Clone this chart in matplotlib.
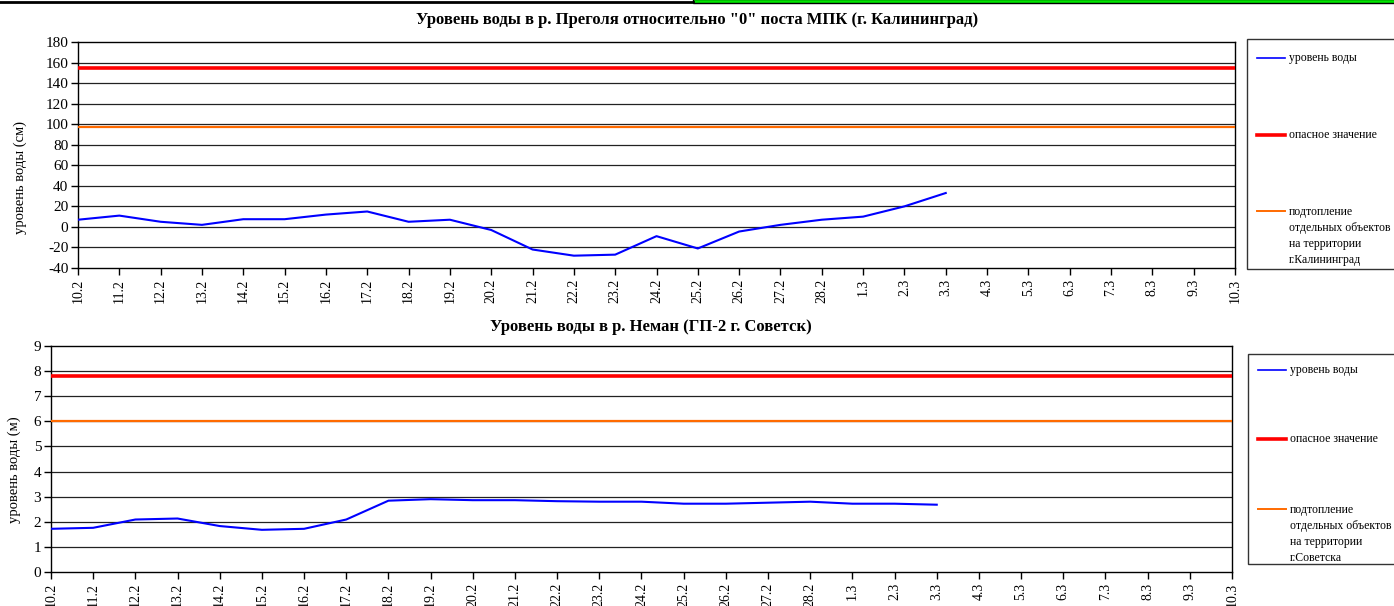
import matplotlib.pyplot as plt
from matplotlib.lines import Line2D
from matplotlib.patches import Rectangle
import numpy as np

plt.rcParams['font.family'] = ['Liberation Serif', 'DejaVu Serif']
plt.rcParams['axes.unicode_minus'] = False

# даты (ось X)
dates = ['10.2', '11.2', '12.2', '13.2', '14.2', '15.2', '16.2', '17.2', '18.2',
         '19.2', '20.2', '21.2', '22.2', '23.2', '24.2', '25.2', '26.2', '27.2',
         '28.2', '1.3', '2.3', '3.3', '4.3', '5.3', '6.3', '7.3', '8.3', '9.3', '10.3']

# р. Преголя, см
pregolya = [7, 11, 5, 2, 7.5, 7.5, 12, 15, 5, 7, -3, -22, -28, -27, -9, -21,
            -4.5, 2, 7, 10, 20, 33]
pregolya_danger = 155
pregolya_flood = 97

# р. Неман, м
neman = [1.72, 1.76, 2.09, 2.13, 1.83, 1.68, 1.72, 2.09, 2.84, 2.90, 2.86, 2.86,
         2.82, 2.80, 2.80, 2.72, 2.72, 2.76, 2.80, 2.72, 2.72, 2.68]
neman_danger = 7.8
neman_flood = 6.0

W, H = 1394, 606
BLUE = '#0000FF'
RED = '#FF0000'
ORANGE = '#FF6A00'

fig = plt.figure(figsize=(W / 100, H / 100), dpi=100)


def box(l, t, r, b):
    return [l / W, 1 - b / H, (r - l) / W, (b - t) / H]


def fx(x):
    return x / W


def fy(y):
    return 1 - y / H


def draw_chart(ax, values, danger, flood, yticks):
    x = np.arange(len(dates))
    for yt in yticks[1:-1]:
        ax.axhline(yt, color='#222222', lw=0.9, zorder=1)
    ax.axhline(danger, color=RED, lw=2.6, zorder=3)
    ax.axhline(flood, color=ORANGE, lw=1.6, zorder=3)
    ax.plot(x[:len(values)], values, color=BLUE, lw=1.5, zorder=4)
    ax.set_xlim(0, len(dates) - 1)
    ax.set_ylim(yticks[0], yticks[-1])
    ax.set_yticks(yticks)
    ax.set_xticks(x)
    ax.set_xticklabels(dates, rotation=90, fontsize=10)
    ax.tick_params(axis='y', labelsize=11, length=5, width=1, direction='out', pad=2)
    ax.tick_params(axis='x', length=5, width=1, direction='out', pad=3)
    for s in ax.spines.values():
        s.set_color('black')
        s.set_linewidth(1)


def draw_legend(left, top, bottom, rows, last_label):
    fig.patches.append(Rectangle((fx(left), fy(bottom)), fx(W + 20 - left),
                                 (bottom - top) / H, transform=fig.transFigure,
                                 facecolor='white', edgecolor='#333333', lw=1))
    items = [(BLUE, 1.2, 'уровень воды'), (RED, 2.6, 'опасное значение'),
             (ORANGE, 1.4, last_label)]
    for (c, lw, lab), yy in zip(items, rows):
        fig.lines.append(Line2D([fx(left + 10), fx(left + 38)], [fy(yy), fy(yy)],
                                transform=fig.transFigure, color=c, lw=lw))
        fig.text(fx(left + 42), fy(yy - 5.5), lab, fontsize=8.5, va='top', ha='left',
                 linespacing=1.45)


ax1 = fig.add_axes(box(78, 42, 1235, 268))
draw_chart(ax1, pregolya, pregolya_danger, pregolya_flood, list(range(-40, 181, 20)))
fig.text(fx(697), fy(20), 'Уровень воды в р. Преголя относительно "0" поста МПК (г. Калининград)',
         ha='center', va='center', fontsize=12, fontweight='bold')
fig.text(fx(20), fy(178), 'уровень воды (см)', rotation=90, ha='center', va='center',
         fontsize=10.5)
draw_legend(1247, 39, 269, [58, 135, 211],
            'подтопление\nотдельных объектов\nна территории\nг.Калининград')

ax2 = fig.add_axes(box(51, 346, 1232, 572))
draw_chart(ax2, neman, neman_danger, neman_flood, list(range(0, 10)))
fig.text(fx(651), fy(327), 'Уровень воды в р. Неман (ГП-2 г. Советск)',
         ha='center', va='center', fontsize=12, fontweight='bold')
fig.text(fx(14), fy(470), 'уровень воды (м)', rotation=90, ha='center', va='center',
         fontsize=10.5)
draw_legend(1248, 354, 564, [370, 439, 509],
            'подтопление\nотдельных объектов\nна территории\nг.Советска')

# полоса сверху
fig.lines.append(Line2D([0, fx(693)], [fy(2), fy(2)], transform=fig.transFigure,
                        color='black', lw=2))
fig.patches.append(Rectangle((fx(693), fy(3)), fx(W + 10 - 693), 4 / H,
                             transform=fig.transFigure, facecolor='#00E600',
                             edgecolor='black', lw=1))

fig.savefig('out.png', dpi=100)
